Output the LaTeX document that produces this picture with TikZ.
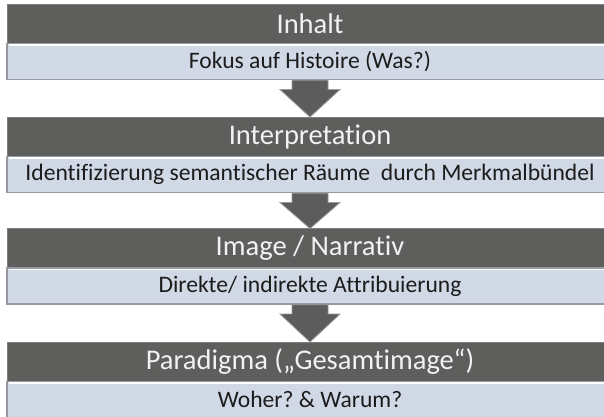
\documentclass[tikz,border=0pt]{standalone}
\usepackage{fontspec}
\setmainfont[Ligatures={NoCommon}]{Carlito}
\usetikzlibrary{calc}
\frenchspacing
\definecolor{hdrfill}{HTML}{5E5F5D}
\definecolor{hdrline}{HTML}{7E7F7D}
\definecolor{barfill}{HTML}{D2D9E6}
\definecolor{barline}{HTML}{969AA2}
\definecolor{arrfill}{HTML}{5C5C5C}
\definecolor{arrline}{HTML}{9A9A9A}
\definecolor{hdrtext}{HTML}{F2F2F2}
\definecolor{bartext}{HTML}{1C1C1C}
\begin{document}
\begin{tikzpicture}[x=1pt,y=-1pt,
  header/.style={rectangle, fill=hdrfill, draw=hdrline, line width=1pt,
    minimum width=606pt, minimum height=39.5pt, inner sep=0pt, outer sep=0pt,
    anchor=north west, text=hdrtext, font=\fontsize{28.5}{32}\selectfont},
  barbox/.style={rectangle, fill=barfill, draw=barline, line width=1.4pt,
    minimum width=606pt, minimum height=36pt, inner sep=0pt, outer sep=0pt,
    anchor=north, text=bartext, font=\fontsize{23.6}{26}\selectfont},
  downarrow/.style={fill=arrfill, draw=arrline, line width=0.8pt, line join=miter}
]
\clip (0,0) rectangle (604,416);
\fill[white] (0,0) rectangle (604,416);

\node[header] (h1) at (7,4) {Inhalt};
\node[barbox] (b1) at (h1.south) {Fokus auf Histoire (Was?)};

\node[header] (h2) at (7,117) {Interpretation};
\node[barbox] (b2) at (h2.south) {Identifizierung semantischer Räume\ \ durch Merkmalbündel};

\node[header] (h3) at (7,228.5) {Image / Narrativ};
\node[barbox] (b3) at (h3.south) {Direkte/ indirekte Attribuierung};

\node[header] (h4) at (7,342) {Paradigma („Gesamtimage“)};
\node[barbox] (b4) at (h4.south) {Woher? \& Warum?};

% bevel highlights
\foreach \b in {b1,b2,b3,b4}{
  \draw[white, line width=1.2pt] ($(\b.north west)+(1.5,1.5)$) -- ($(\b.north east)+(-1.5,1.5)$);
}

% arrows
\foreach \b/\h in {b1/h2,b2/h3,b3/h4}{
  \draw[downarrow] ($(\b.south)+(-18,0.7)$) -- ($(\b.south)+(18,0.7)$)
    -- ($(\b.south)+(18,10)$) -- ($(\b.south)+(30,10)$)
    -- (\h.north) -- ($(\b.south)+(-30,10)$)
    -- ($(\b.south)+(-18,10)$) -- cycle;
}
\end{tikzpicture}
\end{document}
